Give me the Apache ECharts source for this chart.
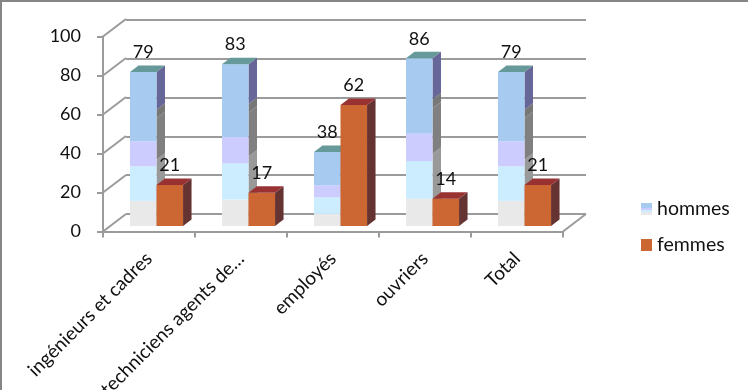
<!DOCTYPE html>
<html>
<head>
<meta charset="utf-8">
<style>html,body{margin:0;padding:0;background:#fff}#c{width:748px;height:390px}</style>
<script src="https://cdn.jsdelivr.net/npm/echarts@6/dist/echarts.min.js"></script>
</head>
<body>
<div id="c"></div>
<script>
const categories = ['ingénieurs et cadres', 'techniciens agents de…', 'employés', 'ouvriers', 'Total'];
const hommes = [79, 83, 38, 86, 79];
const femmes = [21, 17, 62, 14, 21];
const yTicks = [0, 20, 40, 60, 80, 100];

const FONT = 'Lato, "Open Sans", sans-serif';
const GRID = '#9b9b9b';
const DEPTH = [8.5, -6.5];
const PLANE = -5.5;

const frontBandsH = [[0, .163, '#E9E9E9'], [.163, .387, '#CCECFF'], [.387, .55, '#CCCCFF'], [.55, 1, '#A6CAF0']];
const sideBandsH = [[0, .43, '#999999'], [.43, .70, '#808080'], [.70, .754, '#777777'], [.754, 1, '#666699']];
const frontBandsF = [[0, 1, '#CC6633']];
const sideBandsF = [[0, 1, '#663333']];

function bar(api, spec) {
  const c = api.coord([api.value(0), api.value(1)]);
  const base = api.coord([api.value(0), 0])[1] + PLANE;
  const top = c[1] + PLANE;
  const band = api.size([1, 0])[0];
  const x0 = c[0] + band * spec.from;
  const x1 = c[0] + band * spec.to;
  const h = base - top;
  const kids = [];
  spec.side.forEach(function (b) {
    const yA = base - h * b[0], yB = base - h * b[1];
    kids.push({type: 'polygon', shape: {points: [[x1, yA], [x1 + DEPTH[0], yA + DEPTH[1]], [x1 + DEPTH[0], yB + DEPTH[1]], [x1, yB]]}, style: {fill: b[2]}});
  });
  spec.front.forEach(function (b) {
    const yA = base - h * b[0], yB = base - h * b[1];
    kids.push({type: 'rect', shape: {x: x0, y: yB, width: x1 - x0, height: yA - yB}, style: {fill: b[2]}});
  });
  kids.push({type: 'polygon', shape: {points: [[x0, top], [x1, top], [x1 + DEPTH[0], top + DEPTH[1]], [x0 + DEPTH[0], top + DEPTH[1]]]}, style: {fill: spec.topFill}});
  kids.push({type: 'text', style: {text: String(api.value(1)), x: (x0 + x1) / 2, y: top - 19.5, align: 'center', verticalAlign: 'middle', fontFamily: FONT, fontSize: 18, fill: '#111'}});
  return {type: 'group', children: kids};
}

function slant(params, api) {
  const p = api.coord([api.value(0), api.value(1)]);
  const a = p[0] - api.size([1, 0])[0] / 2;
  return {type: 'line', shape: {x1: a, y1: p[1], x2: a + 23, y2: p[1] - 17.5}, style: {stroke: GRID, lineWidth: 2}};
}

const homGrad = {type: 'linear', x: 0, y: 1, x2: 0, y2: 0, colorStops: [
  {offset: 0, color: '#E9E9E9'}, {offset: .25, color: '#E9E9E9'}, {offset: .25, color: '#CCECFF'}, {offset: .45, color: '#CCECFF'},
  {offset: .45, color: '#CCCCFF'}, {offset: .6, color: '#CCCCFF'}, {offset: .6, color: '#A6CAF0'}, {offset: 1, color: '#A6CAF0'}]};

const chart = echarts.init(document.getElementById('c'), null, {renderer: 'canvas'});
chart.setOption({
  animation: false,
  backgroundColor: '#fff',
  graphic: [
    {type: 'rect', shape: {x: 0, y: 0, width: 748, height: 2}, style: {fill: '#868686'}},
    {type: 'rect', shape: {x: 0, y: 0, width: 2, height: 390}, style: {fill: '#868686'}}
  ],
  grid: [
    {left: 103, top: 36.5, width: 460, height: 195, outerBoundsMode: 'none'},
    {left: 126, top: 20, width: 460, height: 194, outerBoundsMode: 'none'}
  ],
  legend: {
    orient: 'vertical', left: 636, top: 194, itemWidth: 11, itemHeight: 12, itemGap: 16,
    textStyle: {fontFamily: FONT, fontSize: 19.5, color: '#111'},
    data: [{name: 'hommes', icon: 'rect', itemStyle: {color: homGrad}}, {name: 'femmes', icon: 'rect', itemStyle: {color: '#CC6633'}}]
  },
  xAxis: [
    {type: 'category', data: categories, gridIndex: 0,
     axisLine: {lineStyle: {color: GRID, width: 2}},
     axisTick: {show: true, length: 6, lineStyle: {color: GRID, width: 2}},
     axisLabel: {rotate: 45, interval: 0, margin: 24, fontFamily: FONT, fontSize: 19, color: '#111', hideOverlap: false}},
    {type: 'category', data: categories, gridIndex: 1, show: false}
  ],
  yAxis: [
    {type: 'value', min: 0, max: 100, interval: 20, gridIndex: 0, splitLine: {show: false},
     axisLine: {show: true, lineStyle: {color: GRID, width: 2}},
     axisTick: {show: true, length: 6, lineStyle: {color: GRID, width: 2}},
     axisLabel: {margin: 22, fontFamily: FONT, fontSize: 18, color: '#111'}},
    {type: 'value', min: 0, max: 100, interval: 20, gridIndex: 1,
     axisLine: {show: false}, axisTick: {show: false}, axisLabel: {show: false},
     splitLine: {show: true, lineStyle: {color: GRID, width: 2}}}
  ],
  series: [
    {type: 'custom', name: 'walls', xAxisIndex: 0, yAxisIndex: 0, silent: true, z: 1, clip: false,
     data: yTicks.map(function (t) { return [0, t]; }).concat([[5, 0]]),
     renderItem: slant},
    {type: 'custom', name: 'hommes', xAxisIndex: 0, yAxisIndex: 0, z: 3, clip: false,
     itemStyle: {color: homGrad},
     encode: {x: 0, y: 1},
     data: hommes.map(function (v, i) { return [i, v]; }),
     renderItem: function (params, api) {
       return bar(api, {from: -0.2065, to: 0.0815, front: frontBandsH, side: sideBandsH, topFill: '#669999'});
     }},
    {type: 'custom', name: 'femmes', xAxisIndex: 0, yAxisIndex: 0, z: 4, clip: false,
     itemStyle: {color: '#CC6633'},
     encode: {x: 0, y: 1},
     data: femmes.map(function (v, i) { return [i, v]; }),
     renderItem: function (params, api) {
       return bar(api, {from: 0.0815, to: 0.37, front: frontBandsF, side: sideBandsF, topFill: '#993333'});
     }}
  ]
});
</script>
</body>
</html>
